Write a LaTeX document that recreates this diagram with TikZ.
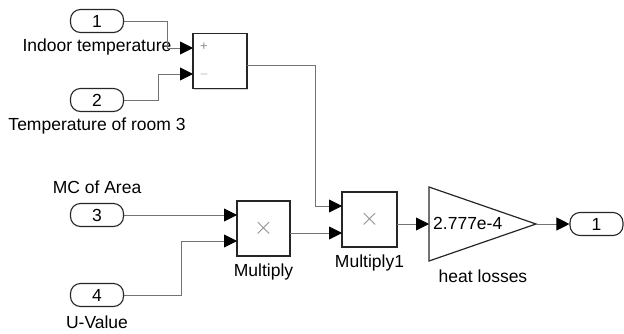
\documentclass[tikz,border=0pt]{standalone}
\usepackage{fontspec}
\setmainfont{Liberation Sans}
\usepackage{tikz}
\usetikzlibrary{arrows.meta,shadows}

\tikzset{
  sig/.style={draw=black!55,line width=0.9pt,-{Triangle[length=13pt,width=13pt,black]}},
  port/.style={draw=black!85,line width=1.1pt,rounded corners=10pt,minimum width=53pt,minimum height=23pt,inner sep=0pt},
  blk/.style={draw=black!85,fill=white,line width=1.2pt,minimum width=54pt,minimum height=55pt,inner sep=0pt,
    drop shadow={shadow xshift=1.2pt,shadow yshift=-1.2pt,opacity=0.35}},
  lbl/.style={inner sep=0pt},
  sgn/.style={inner sep=0pt,text=black!45,font=\fontsize{13}{15}\selectfont}
}

\begin{document}
\begin{tikzpicture}[x=1pt,y=-1pt,font=\fontsize{17.5}{20}\selectfont]
  \useasboundingbox (0,0) rectangle (624,333);
  % inports
  \node[port] (in1) at (97,21) {1}; \node[lbl] (l1) at (97,47) {Indoor temperature};
  \node[port] (in2) at (97,100) {2}; \node[lbl] (l2) at (97,126) {Temperature of room 3};
  \node[port] (in3) at (97,215) {3}; \node[lbl] (l3) at (97,187) {MC of Area};
  \node[port] (in4) at (97,295) {4}; \node[lbl] (l4) at (97,322) {U-Value};
  % blocks
  \node[blk] (sum) at (220,61) {};
  \node[blk,minimum width=53pt] (mul) at (263.5,228.5) {};
  \node[sgn,font=\fontsize{24}{26}\selectfont] at (mul.center) {$\times$};
  \node[lbl] (lm) at (263.5,272) {Multiply};
  \node[blk,minimum width=55pt] (mul1) at (369.5,219.5) {};
  \node[sgn,font=\fontsize{24}{26}\selectfont] at (mul1.center) {$\times$};
  \node[lbl] (lm1) at (369.5,263) {Multiply1};
  \node[sgn] at (204,47) {+};
  \node[sgn] at (204,74) {$-$};
  \coordinate (sumA) at (193,48); \coordinate (sumB) at (193,74); \coordinate (sumO) at (247,65);
  \coordinate (mulA) at (237,215); \coordinate (mulB) at (237,241); \coordinate (mulO) at (290,233);
  \coordinate (mul1A) at (342,206); \coordinate (mul1B) at (342,233); \coordinate (mul1O) at (397,224);
  % gain
  \coordinate (gA) at (429,187); \coordinate (gB) at (429,261); \coordinate (gC) at (536,224);
  \draw[draw=black!85,fill=white,line width=1.2pt] (gA) -- (gC) -- (gB) -- cycle;
  \node[lbl,anchor=west] (gain) at (433,223) {2.777e-4};
  \node[lbl] (lg) at (483,276) {heat losses};
  % outport
  \node[port] (out1) at (596.5,224) {1};
  % signals
  \draw[sig] (in1.east) -| ([xshift=-26pt]sumA) -- (sumA);
  \draw[sig] (in2.east) -| ([xshift=-35pt]sumB) -- (sumB);
  \draw[sig] (sumO) -| ([xshift=-27pt]mul1A) -- (mul1A);
  \draw[sig] (in3.east) -- (mulA);
  \draw[sig] (in4.east) -| ([xshift=-56pt]mulB) -- (mulB);
  \draw[sig] (mulO) -- (mul1B);
  \draw[sig] (mul1O) -- (gA |- mul1O);
  \draw[sig] (gC) -- (out1.west);
\end{tikzpicture}
\end{document}
